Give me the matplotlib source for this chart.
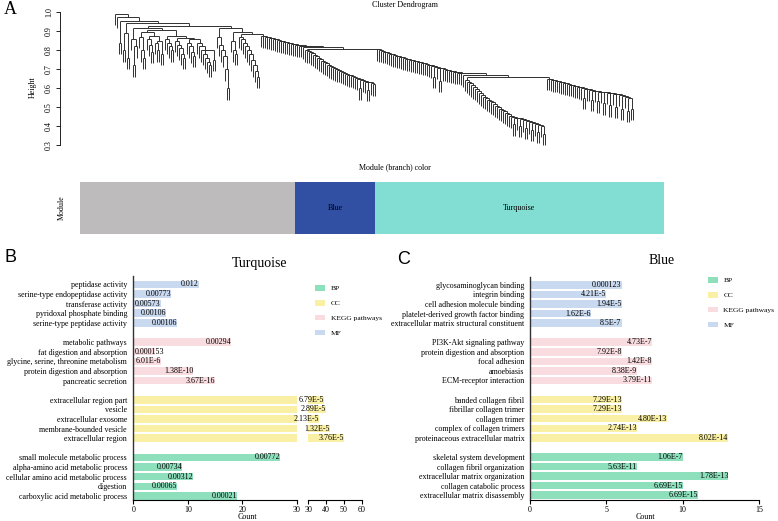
import matplotlib
matplotlib.use('Agg')
import matplotlib.pyplot as plt
from matplotlib.collections import LineCollection
from matplotlib.patches import Patch
from matplotlib.transforms import offset_copy
import numpy as np

plt.rcParams['font.family'] = ['Liberation Serif', 'DejaVu Serif']

# ---------------- data ----------------
# Dendrogram: merge height between each pair of adjacent leaves (left to right)
gap_heights = [
    0.993, 0.975, 0.84, 0.955, 0.80, 0.89, 0.76, 0.944, 0.86, 0.72, 0.82, 0.915,
    0.87, 0.80, 0.76, 0.895, 0.86, 0.83, 0.79, 0.875, 0.84, 0.80, 0.85, 0.78, 0.905,
    0.86, 0.84, 0.82, 0.80, 0.875, 0.85, 0.83, 0.81, 0.78, 0.76, 0.865, 0.84, 0.82,
    0.79, 0.77, 0.86, 0.84, 0.82, 0.80, 0.78, 0.76, 0.74, 0.72, 0.80, 0.75, 0.926,
    0.87, 0.83, 0.80, 0.77, 0.70, 0.60, 0.917,
    0.85, 0.80, 0.78, 0.896, 0.87, 0.86, 0.84, 0.82, 0.80, 0.78, 0.75, 0.72, 0.69, 0.66, 0.884,
    0.876, 0.873, 0.871, 0.868, 0.864, 0.862, 0.859, 0.857, 0.853, 0.851, 0.847, 0.845,
    0.842, 0.838, 0.836, 0.833, 0.831, 0.828, 0.826, 0.824, 0.822, 0.815,
    0.80, 0.795, 0.79, 0.783, 0.775, 0.768, 0.76, 0.752, 0.745, 0.737, 0.73, 0.722,
    0.715, 0.71, 0.705, 0.70, 0.695, 0.69, 0.685, 0.68, 0.675, 0.67, 0.668, 0.665,
    0.66, 0.655, 0.65, 0.60, 0.645, 0.64, 0.635, 0.59, 0.63, 0.625, 0.62, 0.808,
    0.805, 0.80, 0.797, 0.793, 0.79, 0.786, 0.782, 0.778, 0.774, 0.77, 0.768, 0.765,
    0.762, 0.758, 0.755, 0.752, 0.749, 0.746, 0.744, 0.742, 0.74, 0.737, 0.733, 0.73,
    0.727, 0.724, 0.72, 0.716, 0.66, 0.712, 0.708, 0.64, 0.704, 0.70, 0.697, 0.694,
    0.691, 0.688, 0.686, 0.684, 0.682, 0.68, 0.678, 0.668,
    0.645, 0.635, 0.625, 0.615, 0.605, 0.595, 0.585, 0.575, 0.565, 0.555, 0.548, 0.54,
    0.532, 0.525, 0.517, 0.508, 0.50, 0.492, 0.485, 0.478, 0.47, 0.462, 0.455, 0.45,
    0.41, 0.445, 0.44, 0.40, 0.435, 0.43, 0.39, 0.425, 0.42, 0.38, 0.415, 0.41, 0.37,
    0.405, 0.40, 0.36, 0.66,
    0.65, 0.648, 0.645, 0.642, 0.64, 0.637, 0.634, 0.631, 0.628, 0.625, 0.622, 0.619,
    0.616, 0.613, 0.61, 0.607, 0.604, 0.60, 0.55, 0.597, 0.594, 0.59, 0.54, 0.587,
    0.585, 0.53, 0.582, 0.58, 0.52, 0.577, 0.575, 0.51, 0.572, 0.57, 0.50, 0.567,
    0.565, 0.49, 0.56, 0.555, 0.48, 0.55, 0.49,
]
leaf_hang = 0.06
height_ticks = [0.3, 0.4, 0.5, 0.6, 0.7, 0.8, 0.9, 1.0]

module_names = ['', 'Blue', 'Turquoise']
module_widths = [215, 80, 289]
module_colors = ['#BEBBBD', '#3150A3', '#82DED2']

category_names = ['BP', 'CC', 'KEGG pathways', 'MF']
category_colors = ['#8EE0BD', '#F9F0A6', '#F9DCE0', '#C9D9F0']

# Turquoise module (top-to-bottom groups: MF, KEGG, CC, BP)
turq_mf_terms = ['peptidase activity', 'serine-type endopeptidase activity', 'transferase activity',
                 'pyridoxal phosphate binding', 'serine-type peptidase activity']
turq_mf_counts = [12, 7, 5, 6, 8]
turq_mf_p = ['0.012', '0.00773', '0.00573', '0.00106', '0.00106']
turq_kegg_terms = ['metabolic pathways', 'fat digestion and absorption', 'glycine, serine, threonine metabolism',
                   'protein digestion and absorption', 'pancreatic secretion']
turq_kegg_counts = [18, 4, 5, 11, 15]
turq_kegg_p = ['0.00294', '0.000153', '6.01E-6', '1.38E-10', '3.67E-16']
turq_cc_terms = ['extracellular region part', 'vesicle', 'extracellular exosome',
                 'membrane-bounded vesicle', 'extracellular region']
turq_cc_counts = [39, 40, 36, 42, 50]
turq_cc_p = ['6.79E-5', '2.89E-5', '2.13E-5', '1.32E-5', '3.76E-5']
turq_bp_terms = ['small molecule metabolic process', 'alpha-amino acid metabolic process',
                 'cellular amino acid metabolic process', 'digestion', 'carboxylic acid metabolic process']
turq_bp_counts = [27, 9, 11, 8, 19]
turq_bp_p = ['0.00772', '0.00734', '0.00312', '0.00065', '0.00021']

# Blue module
blue_mf_terms = ['glycosaminoglycan binding', 'integrin binding', 'cell adhesion molecule binding',
                 'platelet-derived growth factor binding', 'extracellular matrix structural constituent']
blue_mf_counts = [6, 5, 6, 4, 6]
blue_mf_p = ['0.000123', '4.21E-5', '1.94E-5', '1.62E-6', '8.5E-7']
blue_kegg_terms = ['PI3K-Akt signaling pathway', 'protein digestion and absorption', 'focal adhesion',
                   'amoebiasis', 'ECM-receptor interaction']
blue_kegg_counts = [8, 6, 8, 7, 8]
blue_kegg_p = ['4.73E-7', '7.92E-8', '1.42E-8', '8.38E-9', '3.79E-11']
blue_cc_terms = ['banded collagen fibril', 'fibrillar collagen trimer', 'collagen trimer',
                 'complex of collagen trimers', 'proteinaceous extracellular matrix']
blue_cc_counts = [6, 6, 9, 7, 13]
blue_cc_p = ['7.29E-13', '7.29E-13', '4.80E-13', '2.74E-13', '8.02E-14']
blue_bp_terms = ['skeletal system development', 'collagen fibril organization',
                 'extracellular matrix organization', 'collagen catabolic process',
                 'extracellular matrix disassembly']
blue_bp_counts = [10, 7, 13, 10, 11]
blue_bp_p = ['1.06E-7', '5.63E-11', '1.78E-13', '6.69E-15', '6.69E-15']

# ---------------- figure ----------------
W, H = 778, 521
fig = plt.figure(figsize=(W / 100, H / 100), dpi=100)
FS = 5.8
LFS = 5.4


def px_axes(x0, y0, x1, y1):
    return fig.add_axes([x0 / W, 1 - y1 / H, (x1 - x0) / W, (y1 - y0) / H])


def ftext(x, y, s, **kw):
    return fig.text(x / W, 1 - y / H, s, **kw)


# ---- Panel A: dendrogram ----
axA = px_axes(60, 8, 700, 150)
segs = []


def build(lo, hi):
    if lo == hi:
        return float(lo), None
    k = lo + int(np.argmax(gap_heights[lo:hi]))
    h = gap_heights[k]
    xl, hl = build(lo, k)
    xr, hr = build(k + 1, hi)
    bl = hl if hl is not None else h - leaf_hang
    br = hr if hr is not None else h - leaf_hang
    segs.append([(xl, h), (xr, h)])
    segs.append([(xl, h), (xl, bl)])
    segs.append([(xr, h), (xr, br)])
    return (xl + xr) / 2, h


n_leaves = len(gap_heights) + 1
build(0, n_leaves - 1)
axA.add_collection(LineCollection(segs, colors='#303030', linewidths=0.7))
axA.set_xlim(-27.5, 292.5)
axA.set_ylim(0.2737, 1.0227)
for s in ['top', 'right', 'bottom']:
    axA.spines[s].set_visible(False)
axA.spines['left'].set_bounds(0.3, 1.0)
axA.spines['left'].set_linewidth(0.6)
axA.set_xticks([])
axA.set_yticks(height_ticks)
axA.set_yticklabels([f'{t:.1f}' for t in height_ticks], rotation=90, va='center', fontsize=FS)
axA.tick_params(axis='y', length=3, width=0.6, pad=2)
ftext(33, 87, 'Height', rotation=90, ha='center', va='center', fontsize=FS)
ftext(405, 5, 'Cluster Dendrogram', ha='center', va='center', fontsize=FS)
ftext(395, 167, 'Module (branch) color', ha='center', va='center', fontsize=FS)
ftext(10, 10, 'A', ha='center', va='center', fontsize=13)

# module colour bar
axM = px_axes(80, 182, 664, 234)
lefts = np.concatenate([[0], np.cumsum(module_widths)[:-1]])
axM.barh([0] * len(module_widths), module_widths, left=lefts, color=module_colors, height=1.0)
for nm, l, w in zip(module_names, lefts, module_widths):
    axM.text(l + w / 2, 0, nm, ha='center', va='center', fontsize=FS)
axM.set_xlim(0, sum(module_widths))
axM.set_ylim(-0.5, 0.5)
axM.axis('off')
ftext(62, 208, 'Module', rotation=90, ha='center', va='center', fontsize=FS)


# ---- Panels B and C ----
def group_rows(groups):
    rows, terms, counts, pvals, colors = [], [], [], [], []
    r = 0
    for g_terms, g_counts, g_p, col in groups:
        for t, c, p in zip(g_terms, g_counts, g_p):
            rows.append(r)
            terms.append(t)
            counts.append(c)
            pvals.append(p)
            colors.append(col)
            r += 1
        r += 1
    return rows, terms, counts, pvals, colors


def style_bar_axes(ax, ylim):
    ax.set_ylim(*ylim)
    for s in ['top', 'right']:
        ax.spines[s].set_visible(False)
    ax.spines['bottom'].set_linewidth(0.8)
    ax.spines['left'].set_linewidth(1.0)
    ax.spines['left'].set_color('#333333')
    ax.tick_params(axis='x', length=3, width=0.8, labelsize=FS, pad=1.5)


ylimB = (22.42, -0.863)

turq_groups = [
    (turq_mf_terms, turq_mf_counts, turq_mf_p, category_colors[3]),
    (turq_kegg_terms, turq_kegg_counts, turq_kegg_p, category_colors[2]),
    (turq_cc_terms, turq_cc_counts, turq_cc_p, category_colors[1]),
    (turq_bp_terms, turq_bp_counts, turq_bp_p, category_colors[0]),
]
rowsB, termsB, countsB, pB, colsB = group_rows(turq_groups)

axB1 = px_axes(133.3, 276, 296.7, 500)
axB2 = px_axes(308.3, 276, 361.7, 500)
for ax in (axB1, axB2):
    ax.barh(rowsB, countsB, color=colsB, height=0.78)
    style_bar_axes(ax, ylimB)
axB1.set_xlim(0, 30)
axB2.set_xlim(30, 60)
axB1.set_xticks([0, 10, 20, 30])
axB2.set_xticks([30, 40, 50, 60])
axB1.set_yticks(rowsB)
axB1.set_yticklabels(termsB, fontsize=FS)
axB1.tick_params(axis='y', length=0, pad=4.5)
axB2.spines['left'].set_visible(False)
axB2.set_yticks([])

blue_groups = [
    (blue_mf_terms, blue_mf_counts, blue_mf_p, category_colors[3]),
    (blue_kegg_terms, blue_kegg_counts, blue_kegg_p, category_colors[2]),
    (blue_cc_terms, blue_cc_counts, blue_cc_p, category_colors[1]),
    (blue_bp_terms, blue_bp_counts, blue_bp_p, category_colors[0]),
]
rowsC, termsC, countsC, pC, colsC = group_rows(blue_groups)
axC = px_axes(530, 277, 759, 500)
axC.barh(rowsC, countsC, color=colsC, height=0.78)
style_bar_axes(axC, (22.5, -0.82))
axC.set_xlim(0, 15)
axC.set_xticks([0, 5, 10, 15])
axC.set_yticks(rowsC)
axC.set_yticklabels(termsC, fontsize=FS)
axC.tick_params(axis='y', length=0, pad=4)

# value labels
fig.canvas.draw()
renderer = fig.canvas.get_renderer()


def add_value_labels(ax_list, rows, counts, labels):
    for r, c, s in zip(rows, counts, labels):
        ax = ax_list[0]
        for a in ax_list:
            lo, hi = a.get_xlim()
            if lo < c <= hi:
                ax = a
        t = ax.text(c, r, s, ha='right', va='center', fontsize=FS, clip_on=False)
        bb = t.get_window_extent(renderer)
        ax0 = ax_list[0].get_window_extent(renderer).x0
        if bb.x0 < ax0 + 1:
            t.set_horizontalalignment('left')
            t.set_position((0, r))
            t.set_transform(offset_copy(ax_list[0].transData, fig=fig, x=1.0, y=0, units='dots'))


add_value_labels([axB1, axB2], rowsB, countsB, pB)
add_value_labels([axC], rowsC, countsC, pC)

ftext(247.5, 517, 'Count', ha='center', va='center', fontsize=FS)
ftext(645, 517, 'Count', ha='center', va='center', fontsize=FS)
ftext(260, 264, 'Turquoise', ha='center', va='center', fontsize=10)
ftext(662, 260, 'Blue', ha='center', va='center', fontsize=10)
ftext(11, 258, 'B', ha='center', va='center', fontsize=13, family='Liberation Sans')
ftext(404, 260, 'C', ha='center', va='center', fontsize=13, family='Liberation Sans')

handles = [Patch(facecolor=c, edgecolor='none') for c in category_colors]
leg_kw = dict(loc='upper left', frameon=False, fontsize=LFS, handlelength=1.35, handleheight=0.8,
              handletextpad=0.75, labelspacing=1.12, borderpad=0, borderaxespad=0)
fig.legend(handles, category_names, bbox_to_anchor=(315 / W, 1 - 285 / H), **leg_kw)
fig.legend(handles, category_names, bbox_to_anchor=(707.7 / W, 1 - 277 / H), **leg_kw)

fig.savefig('out.png', dpi=100)
